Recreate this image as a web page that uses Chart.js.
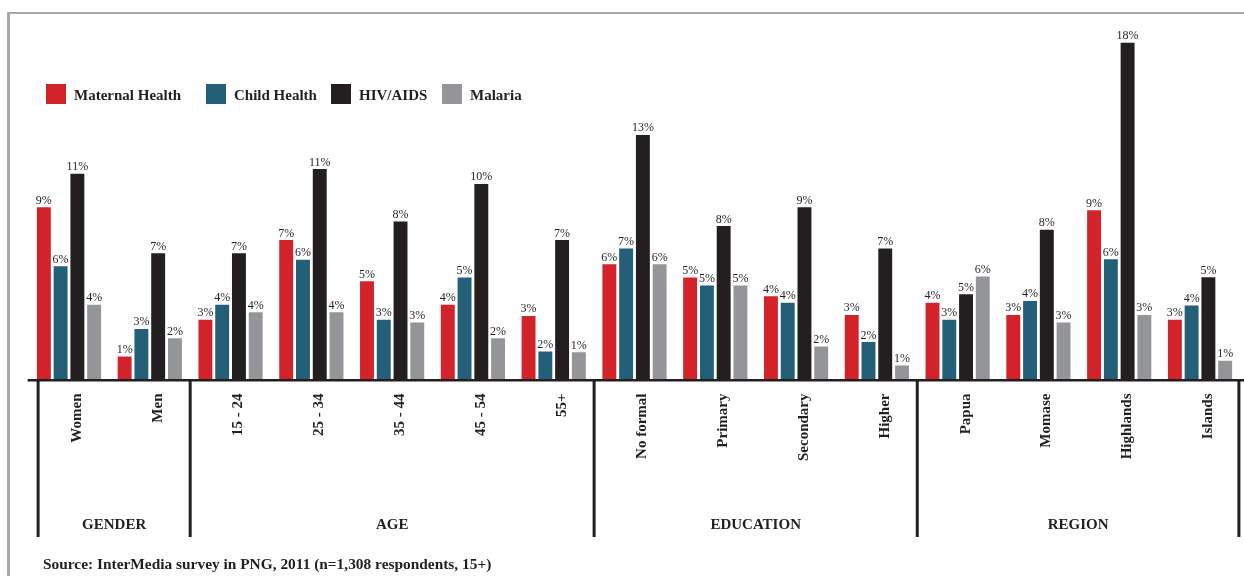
<!DOCTYPE html>
<html>
<head>
<meta charset="utf-8">
<script src="https://cdn.jsdelivr.net/npm/chart.js@4.4.1/dist/chart.umd.min.js"></script>
<style>
  html, body { margin: 0; padding: 0; background: #ffffff; }
  #wrap { position: relative; width: 1244px; height: 576px; overflow: hidden; }
  #frame { position: absolute; left: 7px; top: 12px; right: -10px; bottom: -10px;
           border-top: 2px solid #a7a9ac; border-left: 3px solid #a7a9ac; }
  #c { position: absolute; left: 0; top: 0; }
</style>
</head>
<body>
<div id="wrap">
  <div id="frame"></div>
  <canvas id="c" width="1244" height="576"></canvas>
</div>
<script>
// Respondent subgroups along the x axis
const categories = ['Women', 'Men', '15 - 24', '25 - 34', '35 - 44', '45 - 54', '55+',
  'No formal', 'Primary', 'Secondary', 'Higher', 'Papua', 'Momase', 'Highlands', 'Islands'];

// Grouping of the subgroups (names and how many subgroups each spans)
const groupNames = ['GENDER', 'AGE', 'EDUCATION', 'REGION'];
const groupSizes = [2, 5, 4, 4];

// Share of respondents naming each health topic (%)
const seriesNames = ['Maternal Health', 'Child Health', 'HIV/AIDS', 'Malaria'];
const maternalHealth = [9.2, 1.23, 3.2, 7.45, 5.25, 4.0, 3.4, 6.16, 5.45, 4.45, 3.45, 4.1, 3.45, 9.05, 3.2];
const childHealth    = [6.05, 2.7, 4.0, 6.4, 3.2, 5.45, 1.5, 7.0, 5.03, 4.1, 2.0, 3.2, 4.2, 6.43, 3.96];
const hivAids        = [11.0, 6.75, 6.75, 11.25, 8.45, 10.45, 7.45, 13.07, 8.2, 9.2, 7.0, 4.55, 8.0, 18.0, 5.46];
const malaria        = [4.0, 2.2, 3.6, 3.6, 3.05, 2.2, 1.45, 6.16, 5.03, 1.77, 0.75, 5.5, 3.05, 3.45, 1.0];

const sourceNote = 'Source: InterMedia survey in PNG, 2011 (n=1,308 respondents, 15+)';

const INK = '#231f20';
const SERIF = '"Liberation Serif", "DejaVu Serif", serif';
const colors = ['#d2232a', '#245f78', '#231f20', '#939598'];
const legendX = [46, 206, 331, 442];

const seriesValues = [maternalHealth, childHealth, hivAids, malaria];

const decorations = {
  id: 'decorations',
  afterDatasetsDraw(chart) {
    const { ctx, chartArea, scales: { x } } = chart;
    ctx.save();

    // value labels above each bar
    ctx.font = '12px ' + SERIF;
    ctx.fillStyle = INK;
    ctx.textAlign = 'center';
    ctx.textBaseline = 'alphabetic';
    chart.data.datasets.forEach((ds, di) => {
      chart.getDatasetMeta(di).data.forEach((bar, i) => {
        ctx.fillText(Math.round(ds.data[i]) + '%', bar.x, bar.y - 3.5);
      });
    });

    // baseline
    const base = chartArea.bottom;
    ctx.fillStyle = INK;
    ctx.fillRect(chartArea.left - 1, base - 0.5, chart.width, 2.5);

    // group dividers and group names
    const dividerBottom = 537;
    const bounds = [];
    let idx = 0;
    bounds.push(x.getPixelForValue(-0.5) + 9.5);
    groupSizes.forEach((n, gi) => {
      idx += n;
      const last = gi === groupSizes.length - 1;
      bounds.push(last ? x.getPixelForValue(idx - 0.5) - 1.5 : x.getPixelForValue(idx - 0.5));
    });
    bounds.forEach(px => ctx.fillRect(px - 1.5, base, 3, dividerBottom - base));

    ctx.font = 'bold 15px ' + SERIF;
    ctx.textAlign = 'center';
    groupNames.forEach((name, gi) => {
      ctx.fillText(name, (bounds[gi] + bounds[gi + 1]) / 2, 529);
    });

    // legend
    ctx.textAlign = 'left';
    chart.data.datasets.forEach((ds, di) => {
      const lx = legendX[di];
      ctx.fillStyle = ds.backgroundColor;
      ctx.fillRect(lx, 84, 20, 20);
      ctx.fillStyle = INK;
      ctx.fillText(ds.label, lx + 28, 100);
    });

    // source note
    ctx.font = 'bold 15.4px ' + SERIF;
    ctx.fillText(sourceNote, 43, 569);

    ctx.restore();
  }
};

new Chart(document.getElementById('c'), {
  type: 'bar',
  data: {
    labels: categories,
    datasets: seriesNames.map((name, i) => ({
      label: name,
      data: seriesValues[i],
      backgroundColor: colors[i],
      borderWidth: 0,
      barPercentage: 0.83,
      categoryPercentage: 0.83
    }))
  },
  options: {
    responsive: false,
    animation: false,
    devicePixelRatio: 1,
    layout: { padding: { left: 28.6, right: 3.6, top: 24, bottom: 0 } },
    plugins: { legend: { display: false }, tooltip: { enabled: false } },
    scales: {
      y: { display: false, min: 0, max: 19 },
      x: {
        offset: true,
        grid: { display: false, drawTicks: false },
        border: { display: false },
        ticks: {
          autoSkip: false,
          minRotation: 90,
          maxRotation: 90,
          padding: 14,
          labelOffset: 8,
          color: INK,
          font: { family: SERIF, size: 15, weight: 'bold' }
        },
        afterFit(scale) { scale.height = 196.5; }
      }
    }
  },
  plugins: [decorations]
});
</script>
</body>
</html>
